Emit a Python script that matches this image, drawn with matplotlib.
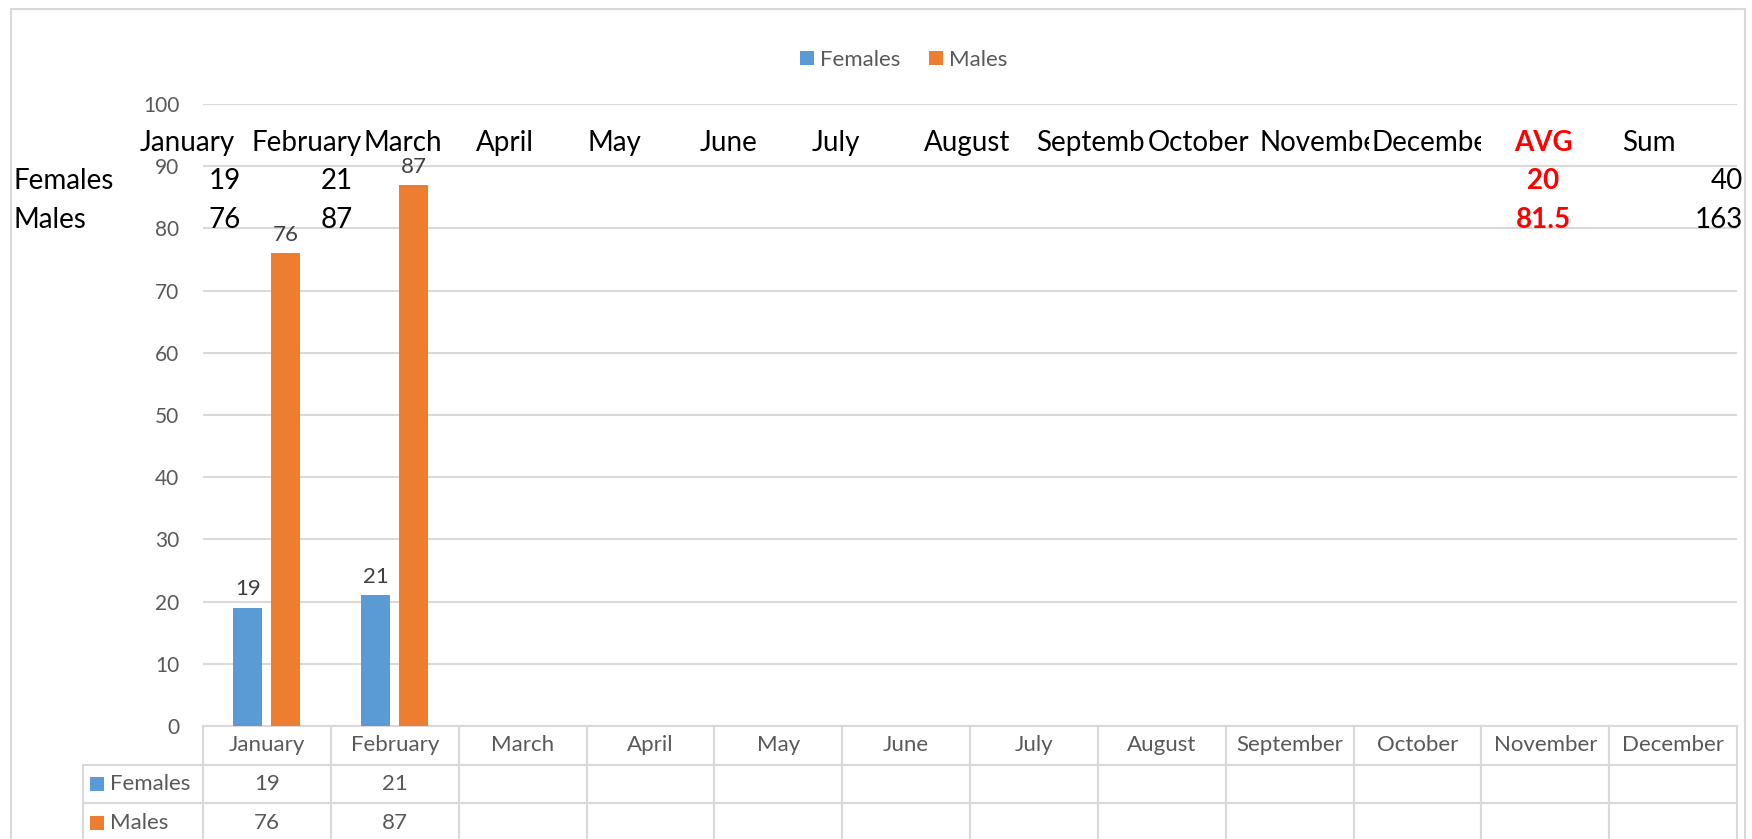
import numpy as np
import matplotlib.pyplot as plt
from matplotlib.table import Table
from matplotlib.patches import Rectangle

plt.rcParams['font.family'] = ['Lato', 'DejaVu Sans']

# data
months = ['January', 'February', 'March', 'April', 'May', 'June', 'July',
          'August', 'September', 'October', 'November', 'December']
series = ['Females', 'Males']
females = [19, 21]
males = [76, 87]
colors = ['#5b9bd5', '#ed7d31']
y_ticks = [0, 10, 20, 30, 40, 50, 60, 70, 80, 90, 100]

W, H = 1752, 839
fig = plt.figure(figsize=(W / 100, H / 100), dpi=100)


def fx(x):
    return x / W


def fy(y):
    return 1 - y / H


# plot area in pixels: x 203..1737, y 104 (100) .. 726 (0)
ax_l, ax_r, ax_t, ax_b = 203, 1737, 104, 726
ax_w = ax_r - ax_l
ax = fig.add_axes([fx(ax_l), fy(ax_b), ax_w / W, (ax_b - ax_t) / H])

x = np.arange(len(females))
b1 = ax.bar(x - 0.149, females, width=0.227, color=colors[0], label=series[0], zorder=2)
b2 = ax.bar(x + 0.149, males, width=0.227, color=colors[1], label=series[1], zorder=2)
ax.bar_label(b1, padding=6, fontsize=16, color='#404040')
ax.bar_label(b2, padding=6, fontsize=16, color='#404040')

ax.set_xlim(-0.5, len(months) - 0.5)
ax.set_ylim(0, 100)
ax.set_yticks(y_ticks)
ax.set_xticks([])
ax.yaxis.grid(True, color='#d9d9d9', lw=1.5)
ax.set_axisbelow(True)
for s in ax.spines.values():
    s.set_visible(False)
ax.tick_params(axis='y', length=0, pad=17, labelsize=15, labelcolor='#595959')

# data table under the plot
ax_h = ax_b - ax_t
tbl_h = (842 - ax_b) / ax_h
tbl = Table(ax, bbox=[0, -tbl_h, 1, tbl_h])
row_h = 1 / 3
col_w = 1 / len(months)
lab_w = (ax_l - 83) / ax_w
for j, m in enumerate(months):
    tbl.add_cell(0, j, col_w, row_h, text=m, loc='center')
for r, vals in enumerate([females, males], start=1):
    c = tbl.add_cell(r, -1, lab_w, row_h, text=series[r - 1], loc='left')
    c.PAD = 0.225
    for j in range(len(months)):
        txt = str(vals[j]) if j < len(vals) else ''
        tbl.add_cell(r, j, col_w, row_h, text=txt, loc='center')
tbl.auto_set_font_size(False)
for cell in tbl.get_celld().values():
    cell.set_edgecolor('#d9d9d9')
    cell.set_linewidth(1.5)
    cell.get_text().set_color('#595959')
    cell.get_text().set_fontsize(16)
ax.add_table(tbl)

# legend keys inside the table (Females row, then Males row)
for r in range(2):
    yc = -tbl_h + tbl_h * (1.5 - r) / 3
    ax.plot([(97.5 - ax_l) / ax_w], [yc], marker='s', ms=9.5, mew=0,
            color=colors[r], transform=ax.transAxes, clip_on=False, zorder=5)

# legend on top
fig.legend(handles=[b1, b2], labels=series, loc='center',
           bbox_to_anchor=(fx(904), fy(60)), ncol=2, frameon=False,
           fontsize=16, handlelength=0.6, handleheight=0.6,
           handletextpad=0.3, columnspacing=1.3, labelcolor='#595959')

# spreadsheet cells showing through over the chart
cell_w = 112
for i, m in enumerate(months):
    left = 137 + i * cell_w
    t = fig.text(fx(left + 3), fy(143), m, fontsize=20, color='black',
                 ha='left', va='center')
    clip = Rectangle((fx(left), fy(160)), cell_w / W, 35 / H,
                     transform=fig.transFigure)
    t.set_clip_path(clip)

fig.text(fx(1543), fy(143), 'AVG', fontsize=20, color='#ff0000',
         fontweight='bold', ha='center', va='center')
fig.text(fx(1622), fy(143), 'Sum', fontsize=20, color='black',
         ha='left', va='center')

row_y = [181, 220]
for k, vals in enumerate([females, males]):
    fig.text(fx(13), fy(row_y[k]), series[k], fontsize=20, color='black',
             ha='left', va='center')
    for i, v in enumerate(vals):
        fig.text(fx(137 + (i + 1) * cell_w - 8), fy(row_y[k]), str(v),
                 fontsize=20, color='black', ha='right', va='center')
    avg = np.mean(vals)
    fig.text(fx(1543), fy(row_y[k]), f'{avg:g}', fontsize=20, color='#ff0000',
             fontweight='bold', ha='center', va='center')
    fig.text(fx(1743), fy(row_y[k]), str(sum(vals)), fontsize=20,
             color='black', ha='right', va='center')

# chart frame
fig.patches.append(Rectangle((fx(11), fy(850)), (1745 - 11) / W, (850 - 9) / H,
                             transform=fig.transFigure, fill=False,
                             edgecolor='#d9d9d9', lw=1.5))

fig.savefig('out.png', dpi=100)
